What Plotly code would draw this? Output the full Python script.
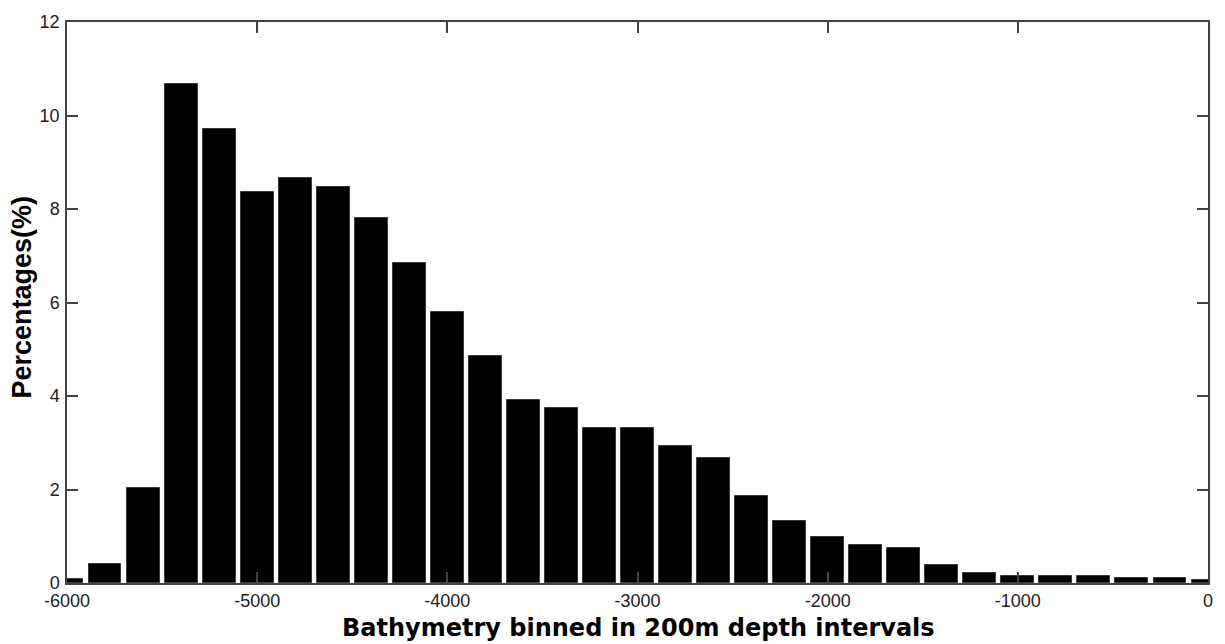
import plotly.graph_objects as go

# Depth bin centres (m) and share of area in each 200 m bin (%)
depth_bins = [-6000, -5800, -5600, -5400, -5200, -5000, -4800, -4600, -4400, -4200,
              -4000, -3800, -3600, -3400, -3200, -3000, -2800, -2600, -2400, -2200,
              -2000, -1800, -1600, -1400, -1200, -1000, -800, -600, -400, -200, 0]
percentages = [0.09, 0.41, 2.04, 10.68, 9.71, 8.36, 8.66, 8.48, 7.81, 6.85,
               5.79, 4.85, 3.92, 3.74, 3.31, 3.31, 2.94, 2.67, 1.87, 1.32,
               0.99, 0.81, 0.74, 0.38, 0.22, 0.14, 0.14, 0.14, 0.10, 0.10, 0.07]

x_ticks = [-6000, -5000, -4000, -3000, -2000, -1000, 0]
y_ticks = [0, 2, 4, 6, 8, 10, 12]

fig = go.Figure(
    go.Bar(
        x=depth_bins,
        y=percentages,
        width=173,
        marker=dict(color="black", line=dict(color="#3a3a3a", width=1)),
        hoverinfo="x+y",
    )
)

axis_common = dict(
    showline=True,
    linecolor="#444444",
    linewidth=1.5,
    mirror="ticks",
    ticks="inside",
    ticklen=11,
    tickwidth=1.5,
    tickcolor="#444444",
    showgrid=False,
    zeroline=False,
    tickfont=dict(family="Liberation Sans, Arial, sans-serif", size=18, color="#222222"),
)

fig.update_xaxes(
    range=[-6000, 0],
    tickmode="array",
    tickvals=x_ticks,
    ticktext=[str(v) for v in x_ticks],
    ticklabelstandoff=1,
    **axis_common,
)
fig.update_yaxes(
    range=[0, 12],
    tickmode="array",
    tickvals=y_ticks,
    ticktext=[str(v) for v in y_ticks],
    ticklabelstandoff=2,
    **axis_common,
)

fig.update_layout(
    width=1225,
    height=644,
    margin=dict(l=67, r=13, t=16, b=61),
    plot_bgcolor="white",
    paper_bgcolor="white",
    showlegend=False,
    bargap=0,
    annotations=[
        dict(
            text="<b>Bathymetry binned in 200m depth intervals</b>",
            xref="paper", yref="paper", x=0.5, y=0,
            xanchor="center", yanchor="top", yshift=-29, xshift=1,
            showarrow=False,
            font=dict(family="DejaVu Sans, Verdana, sans-serif", size=24, color="black"),
        ),
        dict(
            text="<b>Percentages(%)</b>",
            xref="paper", yref="paper", x=0, y=0.5,
            xanchor="center", yanchor="middle", xshift=-46, yshift=5,
            textangle=-90,
            showarrow=False,
            font=dict(family="Liberation Sans, Arial, sans-serif", size=27, color="black"),
        ),
    ],
)

fig.write_html("out.html")
